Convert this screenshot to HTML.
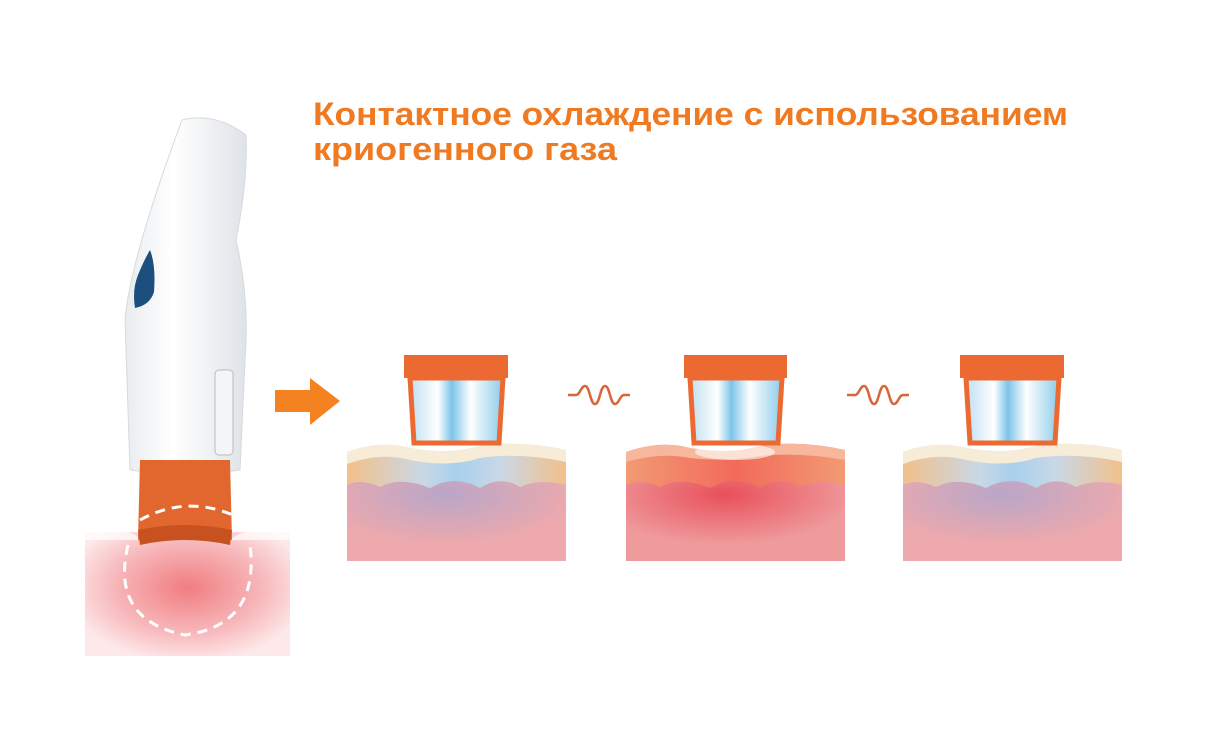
<!DOCTYPE html>
<html><head><meta charset="utf-8"><style>
html,body{margin:0;padding:0;background:#fff;}
svg{display:block;}
</style></head><body>
<svg width="1215" height="734" viewBox="0 0 1215 734" xmlns="http://www.w3.org/2000/svg">
<defs>
<linearGradient id="glass" x1="0" x2="1">
<stop offset="0" stop-color="#bfe0f2"/><stop offset="0.3" stop-color="#ffffff"/><stop offset="0.45" stop-color="#7cc4ea"/><stop offset="0.65" stop-color="#ffffff"/><stop offset="1" stop-color="#8ccbeb"/>
</linearGradient>
<linearGradient id="epiCold" x1="0" x2="1">
<stop offset="0" stop-color="#f2c08a"/><stop offset="0.35" stop-color="#c9d8e6"/><stop offset="0.5" stop-color="#a8d0ee"/><stop offset="0.7" stop-color="#c9d8e6"/><stop offset="1" stop-color="#f2c08a"/>
</linearGradient>
<linearGradient id="epiHot" x1="0" x2="1">
<stop offset="0" stop-color="#f29a74"/><stop offset="0.5" stop-color="#f26a5a"/><stop offset="1" stop-color="#f29a74"/>
</linearGradient>
<radialGradient id="derCold" cx="0.45" cy="0.2" r="0.6">
<stop offset="0" stop-color="#b9a6c8"/><stop offset="1" stop-color="#eda9ad"/>
</radialGradient>
<radialGradient id="derHot" cx="0.45" cy="0.2" r="0.6">
<stop offset="0" stop-color="#e8505a"/><stop offset="1" stop-color="#ef9a9c"/>
</radialGradient>
<radialGradient id="pinkBlock" cx="0.5" cy="0.45" r="0.6">
<stop offset="0" stop-color="#f07d80"/><stop offset="0.6" stop-color="#f7b7ba"/><stop offset="1" stop-color="#fde9ea"/>
</radialGradient>
<linearGradient id="body" x1="0" x2="1">
<stop offset="0" stop-color="#e9ecef"/><stop offset="0.4" stop-color="#ffffff"/><stop offset="1" stop-color="#dfe3e7"/>
</linearGradient>
</defs>

<text x="313" y="125" font-family="Liberation Sans, sans-serif" font-weight="bold" font-size="32" fill="#f07a22" textLength="755" lengthAdjust="spacingAndGlyphs">Контактное охлаждение с использованием</text>
<text x="313" y="160" font-family="Liberation Sans, sans-serif" font-weight="bold" font-size="32" fill="#f07a22" textLength="304" lengthAdjust="spacingAndGlyphs">криогенного газа</text>

<!-- handpiece -->
<rect x="85" y="532" width="205" height="124" fill="url(#pinkBlock)"/>
<path d="M85 532 Q130 525 140 540 L230 540 Q245 525 290 532 L290 540 L85 540Z" fill="#fff" opacity="0.7"/>
<path d="M182 120 Q215 112 246 135 Q248 180 236 240 Q250 300 245 360 L240 470 Q190 478 130 470 L125 320 Q130 260 182 120Z" fill="url(#body)" stroke="#d6dadd" stroke-width="1"/>
<path d="M150 250 Q156 265 154 292 Q150 305 135 308 Q132 290 138 275 Q144 260 150 250Z" fill="#1d4f7e"/>
<rect x="215" y="370" width="18" height="85" rx="4" fill="#f4f5f6" stroke="#b8bcc0"/>
<path d="M140 460 L230 460 L232 540 Q185 530 138 540Z" fill="#e2672f"/>
<path d="M138 530 Q185 520 232 530 L230 545 Q185 535 140 545Z" fill="#c8521f"/>
<path d="M140 520 Q185 495 233 515" fill="none" stroke="#fff" stroke-width="3" stroke-dasharray="10 7"/>
<path d="M128 545 Q110 620 185 635 Q260 625 250 545" fill="none" stroke="#fff" stroke-width="3" stroke-dasharray="10 7"/>

<!-- arrow -->
<polygon points="275,390 310,390 310,378 340,401 310,425 310,412 275,412" fill="#f58220"/>

<!-- waves -->
<path d="M568 395 L576 395 C580 395 581 386 585 386 C590 386 590 404 595 404 C600 404 600 386 605 386 C610 386 610 404 615 404 C619 404 620 395 624 395 L630 395" fill="none" stroke="#d9663a" stroke-width="2.5"/>
<path d="M847 395 L855 395 C859 395 860 386 864 386 C869 386 869 404 874 404 C879 404 879 386 884 386 C889 386 889 404 894 404 C898 404 899 395 903 395 L909 395" fill="none" stroke="#d9663a" stroke-width="2.5"/>

<!-- skin block 1 -->
<g>
<rect x="347" y="478" width="219" height="83" fill="url(#derCold)"/>
<path d="M347 452 Q380 440 410 448 Q450 455 480 446 Q520 440 566 450 L566 485 Q540 478 520 487 Q500 475 480 488 Q455 474 430 488 Q400 476 380 487 Q360 478 347 485Z" fill="url(#epiCold)"/>
<path d="M347 452 Q380 440 410 448 Q450 455 480 446 Q520 440 566 450 L566 462 Q520 452 480 458 Q450 468 410 460 Q380 452 347 464Z" fill="#f7ecd8"/>
<rect x="404" y="355" width="104" height="23" fill="#ec6a32"/>
<path d="M410 378 L503 378 L499 443 L414 443Z" fill="url(#glass)" stroke="#ec6a32" stroke-width="5"/>
</g>
<!-- skin block 2 -->
<g>
<rect x="626" y="478" width="219" height="83" fill="url(#derHot)"/>
<path d="M626 452 Q660 440 690 448 Q730 455 760 446 Q800 440 845 450 L845 485 Q820 478 800 487 Q780 475 760 488 Q735 474 710 488 Q680 476 660 487 Q640 478 626 485Z" fill="url(#epiHot)"/>
<path d="M626 452 Q660 440 690 448 Q730 455 760 446 Q800 440 845 450 L845 460 Q800 452 760 456 Q730 462 690 458 Q660 452 626 462Z" fill="#f6b79c"/>
<ellipse cx="735" cy="452" rx="40" ry="8" fill="#fff" opacity="0.6"/>
<rect x="684" y="355" width="103" height="23" fill="#ec6a32"/>
<path d="M690 378 L782 378 L778 443 L694 443Z" fill="url(#glass)" stroke="#ec6a32" stroke-width="5"/>
</g>
<!-- skin block 3 -->
<g>
<rect x="903" y="478" width="219" height="83" fill="url(#derCold)"/>
<path d="M903 452 Q936 440 966 448 Q1006 455 1036 446 Q1076 440 1122 450 L1122 485 Q1096 478 1076 487 Q1056 475 1036 488 Q1011 474 986 488 Q956 476 936 487 Q916 478 903 485Z" fill="url(#epiCold)"/>
<path d="M903 452 Q936 440 966 448 Q1006 455 1036 446 Q1076 440 1122 450 L1122 462 Q1076 452 1036 458 Q1006 468 966 460 Q936 452 903 464Z" fill="#f7ecd8"/>
<rect x="960" y="355" width="104" height="23" fill="#ec6a32"/>
<path d="M966 378 L1059 378 L1055 443 L970 443Z" fill="url(#glass)" stroke="#ec6a32" stroke-width="5"/>
</g>
</svg>
</body></html>
